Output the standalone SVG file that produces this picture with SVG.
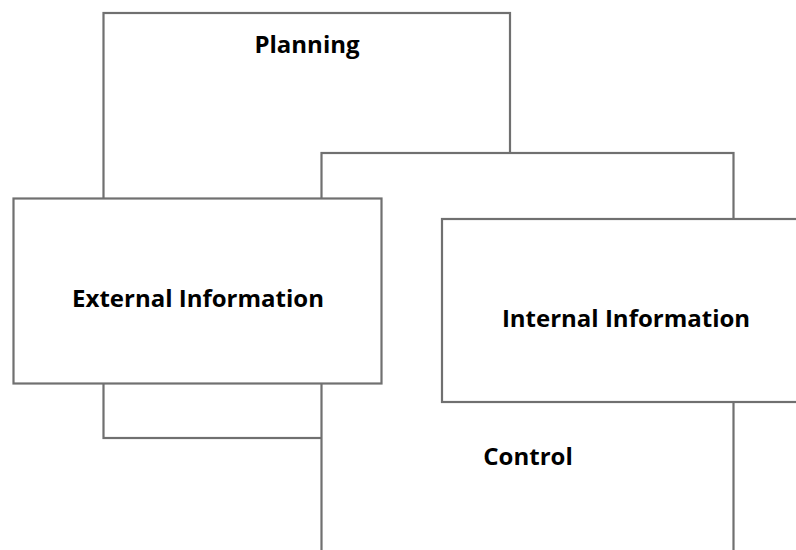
<svg xmlns="http://www.w3.org/2000/svg" width="796" height="550" viewBox="0 0 796 550">
<style>
.box{fill:#ffffff;stroke:#707070;stroke-width:2.2}
.lbl{font-family:"Open Sans","Liberation Sans",sans-serif;font-weight:bold;font-size:24px;fill:#000000;text-anchor:middle}
</style>
<rect x="0" y="0" width="796" height="550" fill="#ffffff"/>
<g id="connectors"></g>
<g id="planning">
<rect class="box" x="103.5" y="13" width="406.5" height="425"/>
<text class="lbl" x="307" y="53">Planning</text>
</g>
<g id="control">
<rect class="box" x="321.5" y="153" width="412" height="420"/>
<text class="lbl" x="528" y="465">Control</text>
</g>
<g id="external">
<rect class="box" x="13.5" y="198.5" width="368" height="185"/>
<text class="lbl" x="198" y="307">External Information</text>
</g>
<g id="internal">
<rect class="box" x="442" y="219" width="380" height="183"/>
<text class="lbl" x="626" y="327">Internal Information</text>
</g>
</svg>
